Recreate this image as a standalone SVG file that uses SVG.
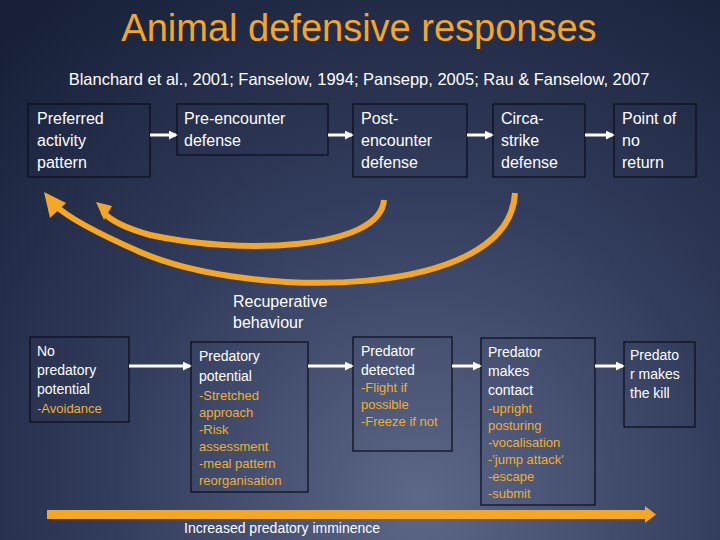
<svg xmlns="http://www.w3.org/2000/svg" width="720" height="540" viewBox="0 0 720 540">
<defs>
<radialGradient id="bg" cx="420" cy="500" r="620" gradientUnits="userSpaceOnUse">
<stop offset="0" stop-color="#5d6787"/><stop offset="0.5" stop-color="#323c5c"/><stop offset="1" stop-color="#172038"/>
</radialGradient>
<marker id="wa" viewBox="0 0 10 10" refX="8" refY="5" markerWidth="3" markerHeight="3" orient="auto"><path d="M0,0L10,5L0,10z" fill="#fff"/></marker>
</defs>
<style>
.b{fill:none;stroke:#0a0d1a;stroke-width:1.2}
.t{font-family:"Liberation Sans",Arial,sans-serif;fill:#fff}
.o{font-family:"Liberation Sans",Arial,sans-serif;fill:#f0b030;font-size:13px}
.c{stroke:#fff;stroke-width:3;fill:none;marker-end:url(#wa)}
.cu{fill:none;stroke:#f5a623;stroke-width:6}
</style>
<rect width="720" height="540" fill="url(#bg)"/>
<text x="359" y="41" text-anchor="middle" font-family="Liberation Sans,Arial,sans-serif" font-size="38" fill="#f5a623">Animal defensive responses</text>
<text x="359" y="85" text-anchor="middle" class="t" font-size="16.5">Blanchard et al., 2001; Fanselow, 1994; Pansepp, 2005; Rau &amp; Fanselow, 2007</text>
<g id="n1"><rect class="b" x="28" y="104" width="122" height="73"/><text class="t" font-size="16" x="37" y="124">Preferred<tspan x="37" dy="22">activity</tspan><tspan x="37" dy="22">pattern</tspan></text></g>
<g id="n2"><rect class="b" x="177" y="104" width="151" height="51"/><text class="t" font-size="16" x="184" y="124">Pre-encounter<tspan x="184" dy="22">defense</tspan></text></g>
<g id="n3"><rect class="b" x="353" y="104" width="114" height="73"/><text class="t" font-size="16" x="361" y="124">Post-<tspan x="361" dy="22">encounter</tspan><tspan x="361" dy="22">defense</tspan></text></g>
<g id="n4"><rect class="b" x="493" y="104" width="92" height="73"/><text class="t" font-size="16" x="501" y="124">Circa-<tspan x="501" dy="22">strike</tspan><tspan x="501" dy="22">defense</tspan></text></g>
<g id="n5"><rect class="b" x="614" y="104" width="82" height="73"/><text class="t" font-size="16" x="622" y="124">Point of<tspan x="622" dy="22">no</tspan><tspan x="622" dy="22">return</tspan></text></g>
<g id="m1"><rect class="b" x="30" y="337" width="99" height="85"/><text class="t" font-size="14" x="37" y="356">No<tspan x="37" dy="19">predatory</tspan><tspan x="37" dy="19">potential</tspan></text><text class="o" x="37" y="413">-Avoidance</text></g>
<g id="m2"><rect class="b" x="191" y="342" width="117" height="150"/><text class="t" font-size="14" x="199" y="361">Predatory<tspan x="199" dy="20">potential</tspan></text><text class="o" x="199" y="400">-Stretched<tspan x="199" dy="17">approach</tspan><tspan x="199" dy="17">-Risk</tspan><tspan x="199" dy="17">assessment</tspan><tspan x="199" dy="17">-meal pattern</tspan><tspan x="199" dy="17">reorganisation</tspan></text></g>
<g id="m3"><rect class="b" x="353" y="337" width="99" height="114"/><text class="t" font-size="14" x="361" y="356">Predator<tspan x="361" dy="19">detected</tspan></text><text class="o" x="361" y="392">-Flight if<tspan x="361" dy="17">possible</tspan><tspan x="361" dy="17">-Freeze if not</tspan></text></g>
<g id="m4"><rect class="b" x="481" y="338" width="114" height="167"/><text class="t" font-size="14" x="488" y="357">Predator<tspan x="488" dy="19">makes</tspan><tspan x="488" dy="19">contact</tspan></text><text class="o" x="488" y="413">-upright<tspan x="488" dy="17">posturing</tspan><tspan x="488" dy="17">-vocalisation</tspan><tspan x="488" dy="17">-'jump attack'</tspan><tspan x="488" dy="17">-escape</tspan><tspan x="488" dy="17">-submit</tspan></text></g>
<g id="m5"><rect class="b" x="624" y="342" width="71" height="85"/><text class="t" font-size="14" x="630" y="360">Predato<tspan x="630" dy="19">r makes</tspan><tspan x="630" dy="19">the kill</tspan></text></g>
<g id="connectors">
<line class="c" x1="150" y1="135" x2="176" y2="135"/>
<line class="c" x1="328" y1="135" x2="352" y2="135"/>
<line class="c" x1="467" y1="135" x2="492" y2="135"/>
<line class="c" x1="585" y1="135" x2="613" y2="135"/>
<line class="c" x1="129" y1="366" x2="190" y2="366"/>
<line class="c" x1="308" y1="366" x2="352" y2="366"/>
<line class="c" x1="452" y1="366" x2="480" y2="366"/>
<line class="c" x1="595" y1="366" x2="623" y2="366"/>
<path class="cu" d="M384,200 C380,250 240,255 150,235 C125,228 110,220 103,212"/>
<path d="M96,202 L112,206 L104,220z" fill="#f5a623"/>
<path class="cu" d="M515,193 C510,300 250,300 140,252 C90,230 65,215 55,205"/>
<path d="M44,192 L66,203 L50,218z" fill="#f5a623"/>
<rect x="47" y="510" width="600" height="9" fill="#f5a623"/>
<path d="M645,506 L656,514.5 L645,523z" fill="#f5a623"/>
</g>
<text class="t" font-size="16" x="233" y="307">Recuperative<tspan x="233" dy="21">behaviour</tspan></text>
<text class="t" font-size="14" x="184" y="533">Increased predatory imminence</text>
</svg>
